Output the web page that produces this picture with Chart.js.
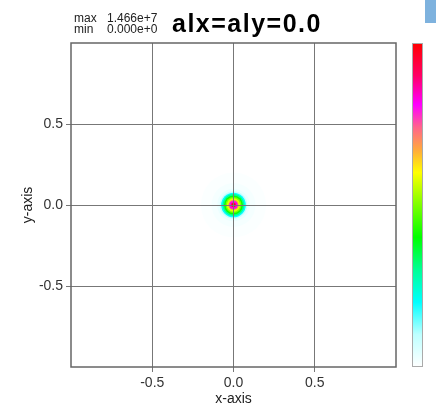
<!DOCTYPE html>
<html lang="en">
<head>
    <meta charset="UTF-8">
    <title>alx=aly=0.0</title>
    <script src="https://cdn.jsdelivr.net/npm/chart.js"></script>
</head>
<style>
    body {
        margin: 0;
        background-color: #fff;
        overflow: hidden;
        position: relative;
    }

    .wrap {
        width: 436px;
        height: 420px;
    }

    .tab {
        position: absolute;
        top: 0;
        right: 0;
        width: 11px;
        height: 23px;
        background-color: #7eb2de;
    }
</style>
<body>

<div class="wrap">
    <canvas id="map" width="436" height="420"></canvas>
</div>
<div class="tab"></div>

<script>
    // dados
    const xTicks = [-0.5, 0, 0.5];
    const yTicks = [-0.5, 0, 0.5];
    const valueMax = 1.466e7;
    const valueMin = 0;
    // perfil radial do pico (raio em unidades do eixo, valor)
    const ringRadius = [0.20, 0.135, 0.10, 0.085, 0.076, 0.067, 0.058, 0.049, 0.041, 0.031, 0.025, 0.015, 0.009];
    const ringValue = [0.01e7, 0.022e7, 0.045e7, 0.13e7, 0.29e7, 0.44e7, 0.60e7, 0.73e7, 0.85e7, 1.05e7, 1.20e7, 1.36e7, 1.466e7];
    const contourRadius = [0.062, 0.034];

    // escala de cores (de baixo para cima)
    const cmap = [
        [0.00, [255, 255, 255]],
        [0.10, [190, 255, 255]],
        [0.20, [0, 255, 255]],
        [0.30, [0, 255, 150]],
        [0.40, [0, 255, 0]],
        [0.52, [150, 255, 0]],
        [0.60, [255, 255, 0]],
        [0.67, [255, 170, 60]],
        [0.74, [255, 100, 140]],
        [0.81, [255, 0, 255]],
        [0.90, [255, 0, 100]],
        [1.00, [255, 0, 0]]
    ];

    function colorAt(f) {
        f = Math.max(0, Math.min(1, f));
        for (let i = 1; i < cmap.length; i++) {
            if (f <= cmap[i][0]) {
                const a = cmap[i - 1], b = cmap[i];
                const t = (f - a[0]) / (b[0] - a[0]);
                const c = a[1].map((v, k) => Math.round(v + (b[1][k] - v) * t));
                return 'rgb(' + c.join(',') + ')';
            }
        }
        return 'rgb(255,0,0)';
    }

    function pxRadius(chart, r) {
        const x = chart.scales.x;
        return Math.abs(x.getPixelForValue(r) - x.getPixelForValue(0));
    }

    const extras = {
        id: 'extras',
        beforeDraw(chart) {
            const c = chart.ctx;
            c.save();
            c.fillStyle = '#fff';
            c.fillRect(0, 0, chart.width, chart.height);
            c.restore();
        },
        afterDraw(chart) {
            const c = chart.ctx;
            const a = chart.chartArea;
            c.save();
            // moldura
            c.strokeStyle = '#666';
            c.lineWidth = 1.5;
            c.strokeRect(a.left, a.top, a.right - a.left, a.bottom - a.top);

            // barra de cores
            const bx = a.right + 16, bw = 11;
            const g = c.createLinearGradient(0, a.bottom, 0, a.top);
            cmap.forEach(s => g.addColorStop(s[0], 'rgb(' + s[1].join(',') + ')'));
            c.fillStyle = g;
            c.fillRect(bx, a.top, bw, a.bottom - a.top);
            c.strokeStyle = '#aaa';
            c.lineWidth = 1;
            c.strokeRect(bx + 0.5, a.top + 0.5, bw - 1, a.bottom - a.top - 1);

            // textos
            c.fillStyle = '#222';
            c.font = '12px "Liberation Sans", Arial, sans-serif';
            c.textBaseline = 'alphabetic';
            c.fillText('max', 74, 22);
            c.fillText('min', 74, 33);
            c.fillText(valueMax.toExponential(3), 107, 22);
            c.fillText(valueMin.toExponential(3), 107, 33);
            c.fillStyle = '#000';
            c.font = 'bold 25px "Liberation Sans", Arial, sans-serif';
            c.letterSpacing = '1.5px';
            c.fillText('alx=aly=0.0', 172, 32);
            c.restore();
        }
    };

    const ctx = document.getElementById('map').getContext('2d');
    const chart = new Chart(ctx, {
        type: 'scatter',
        data: {
            datasets: [{
                data: ringRadius.map(() => ({x: 0, y: 0})),
                pointBackgroundColor: ringValue.map(v => colorAt((v - valueMin) / (valueMax - valueMin))),
                pointBorderWidth: 0,
                pointRadius: (c) => pxRadius(c.chart, ringRadius[c.dataIndex])
            }, {
                data: contourRadius.map(() => ({x: 0, y: 0})),
                pointBackgroundColor: 'rgba(0,0,0,0)',
                pointBorderColor: 'rgba(0,25,10,0.95)',
                pointBorderWidth: 1.4,
                pointRadius: (c) => pxRadius(c.chart, contourRadius[c.dataIndex])
            }]
        },
        options: {
            responsive: false,
            animation: false,
            events: [],
            layout: {padding: {top: 43, right: 40, left: 0, bottom: 0}},
            plugins: {legend: {display: false}, tooltip: {enabled: false}},
            scales: {
                x: {
                    type: 'linear', min: -1, max: 1, z: 1,
                    afterBuildTicks: (s) => { s.ticks = xTicks.map(v => ({value: v})); },
                    afterFit: (s) => { s.height = 53; },
                    grid: {color: '#777', lineWidth: 1, tickLength: 5, z: 1},
                    border: {display: false},
                    ticks: {
                        padding: 3, color: '#333',
                        font: {family: '"Liberation Sans", Arial', size: 14},
                        callback: (v) => v.toFixed(1)
                    },
                    title: {
                        display: true, text: 'x-axis', color: '#222',
                        font: {family: '"Liberation Sans", Arial', size: 14},
                        padding: {top: 0, bottom: 12}
                    }
                },
                y: {
                    type: 'linear', min: -1, max: 1, z: 1,
                    afterBuildTicks: (s) => { s.ticks = yTicks.map(v => ({value: v})); },
                    afterFit: (s) => { s.width = 71; },
                    grid: {color: '#777', lineWidth: 1, tickLength: 5, z: 1},
                    border: {display: false},
                    ticks: {
                        padding: 3, color: '#333',
                        font: {family: '"Liberation Sans", Arial', size: 14},
                        callback: (v) => v.toFixed(1)
                    },
                    title: {
                        display: true, text: 'y-axis', color: '#222',
                        font: {family: '"Liberation Sans", Arial', size: 14},
                        padding: {top: 20, bottom: 0}
                    }
                }
            }
        },
        plugins: [extras]
    });
</script>
</body>
</html>
